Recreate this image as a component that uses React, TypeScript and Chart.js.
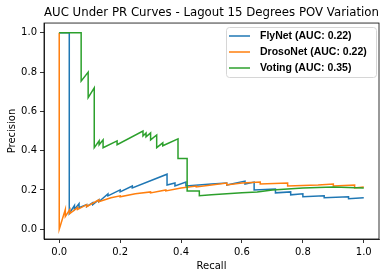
import React, { useEffect, useRef } from "react";
import { Chart, registerables } from "chart.js";

Chart.register(...registerables);

const chartTitle = "AUC Under PR Curves - Lagout 15 Degrees POV Variation";
const xLabel = "Recall";
const yLabel = "Precision";
const tickValues = [0, 0.2, 0.4, 0.6, 0.8, 1.0];

const seriesNames = ["FlyNet (AUC: 0.22)", "DrosoNet (AUC: 0.22)", "Voting (AUC: 0.35)"];
const seriesColors = ["#1f77b4", "#ff7f0e", "#2ca02c"];

const flynetRecall = [0, 0.033, 0.033, 0.05, 0.05, 0.065, 0.065, 0.09, 0.09, 0.11, 0.11, 0.13, 0.13, 0.16, 0.16, 0.2, 0.2, 0.24, 0.24, 0.354, 0.354, 0.38, 0.38, 0.416, 0.416, 0.5, 0.55, 0.55, 0.61, 0.61, 0.64, 0.64, 0.71, 0.71, 0.76, 0.76, 0.8, 0.8, 0.87, 0.87, 0.95, 0.95, 1.0];
const flynetPrecision = [1, 1, 0.08, 0.12, 0.1, 0.13, 0.11, 0.125, 0.115, 0.135, 0.125, 0.15, 0.14, 0.18, 0.17, 0.2, 0.19, 0.22, 0.21, 0.28, 0.225, 0.235, 0.22, 0.24, 0.22, 0.23, 0.235, 0.225, 0.245, 0.23, 0.24, 0.2, 0.205, 0.185, 0.19, 0.175, 0.18, 0.165, 0.17, 0.16, 0.165, 0.155, 0.16];

const drosoRecall = [0, 0, 0.02, 0.02, 0.035, 0.035, 0.06, 0.06, 0.09, 0.09, 0.13, 0.13, 0.17, 0.2, 0.2, 0.25, 0.3, 0.3, 0.35, 0.35, 0.4, 0.45, 0.45, 0.5, 0.55, 0.55, 0.6, 0.66, 0.66, 0.75, 0.75, 0.85, 0.9, 0.9, 0.97, 0.97, 1.0];
const drosoPrecision = [1, 0.0, 0.1, 0.065, 0.1, 0.08, 0.11, 0.1, 0.125, 0.115, 0.15, 0.14, 0.16, 0.17, 0.165, 0.18, 0.19, 0.185, 0.2, 0.195, 0.21, 0.22, 0.215, 0.225, 0.235, 0.225, 0.235, 0.24, 0.23, 0.235, 0.22, 0.225, 0.23, 0.22, 0.225, 0.21, 0.215];

const votingRecall = [0, 0.072, 0.072, 0.095, 0.095, 0.115, 0.115, 0.131, 0.131, 0.144, 0.144, 0.19, 0.19, 0.275, 0.275, 0.285, 0.285, 0.3, 0.3, 0.32, 0.32, 0.34, 0.34, 0.39, 0.39, 0.42, 0.42, 0.46, 0.46, 0.5, 0.55, 0.6, 0.65, 0.7, 0.75, 0.8, 0.9, 1.0];
const votingPrecision = [1, 1, 0.754, 0.8, 0.67, 0.72, 0.415, 0.45, 0.43, 0.455, 0.415, 0.45, 0.43, 0.5, 0.475, 0.49, 0.47, 0.49, 0.455, 0.48, 0.415, 0.44, 0.425, 0.46, 0.36, 0.36, 0.195, 0.195, 0.17, 0.175, 0.18, 0.185, 0.19, 0.2, 0.205, 0.21, 0.215, 0.21];

const allRecall = [flynetRecall, drosoRecall, votingRecall];
const allPrecision = [flynetPrecision, drosoPrecision, votingPrecision];

const framePlugin = {
  id: "frameAndLegend",
  afterDraw(chart: any) {
    const { ctx, chartArea } = chart;
    ctx.save();
    ctx.strokeStyle = "#000";
    ctx.lineWidth = 0.8;
    ctx.strokeRect(chartArea.left, chartArea.top, chartArea.right - chartArea.left, chartArea.bottom - chartArea.top);

    // legend
    const bx = 226.5, by = 27.5, bw = 150, bh = 50, r = 3;
    ctx.beginPath();
    ctx.moveTo(bx + r, by);
    ctx.lineTo(bx + bw - r, by);
    ctx.arcTo(bx + bw, by, bx + bw, by + r, r);
    ctx.lineTo(bx + bw, by + bh - r);
    ctx.arcTo(bx + bw, by + bh, bx + bw - r, by + bh, r);
    ctx.lineTo(bx + r, by + bh);
    ctx.arcTo(bx, by + bh, bx, by + bh - r, r);
    ctx.lineTo(bx, by + r);
    ctx.arcTo(bx, by, bx + r, by, r);
    ctx.closePath();
    ctx.fillStyle = "rgba(255,255,255,0.8)";
    ctx.fill();
    ctx.strokeStyle = "#d6d6d6";
    ctx.lineWidth = 1;
    ctx.stroke();

    ctx.font = "bold 10.5px 'Liberation Sans', Arial, sans-serif";
    ctx.textBaseline = "middle";
    ctx.textAlign = "left";
    seriesNames.forEach((name, i) => {
      const y = 36 + i * 16;
      ctx.beginPath();
      ctx.strokeStyle = seriesColors[i];
      ctx.lineWidth = 1.5;
      ctx.moveTo(229, y);
      ctx.lineTo(250, y);
      ctx.stroke();
      ctx.fillStyle = "#000";
      ctx.fillText(name, 260, y + 0.5);
    });
    ctx.restore();
  },
};

export default function App() {
  const canvasRef = useRef<HTMLCanvasElement | null>(null);

  useEffect(() => {
    if (!canvasRef.current) return;
    const datasets = seriesNames.map((name, i) => ({
      label: name,
      data: allRecall[i].map((r, j) => ({ x: r, y: allPrecision[i][j] })),
      borderColor: seriesColors[i],
      backgroundColor: seriesColors[i],
      borderWidth: 1.5,
      pointRadius: 0,
      showLine: true,
      tension: 0,
      fill: false,
      order: 2 - i,
    }));

    const tickFont = { family: "'DejaVu Sans', sans-serif", size: 10 };
    const chart = new Chart(canvasRef.current, {
      type: "scatter",
      data: { datasets },
      plugins: [framePlugin],
      options: {
        animation: false,
        responsive: false,
        devicePixelRatio: 1,
        layout: { padding: { left: 0, right: 11, top: 0, bottom: 0 } },
        plugins: {
          legend: { display: false },
          tooltip: { enabled: false },
          title: {
            display: true,
            text: chartTitle,
            fullSize: false,
            color: "#000",
            font: { family: "'DejaVu Sans', sans-serif", size: 12.2, weight: "normal" },
            padding: { top: 6, bottom: 2.4 },
          },
        },
        scales: {
          x: {
            type: "linear",
            min: -0.05,
            max: 1.05,
            afterBuildTicks: (axis: any) => {
              axis.ticks = tickValues.map((v) => ({ value: v }));
            },
            afterFit: (scale: any) => {
              scale.height = 39;
            },
            ticks: {
              color: "#000",
              font: tickFont,
              padding: 3,
              maxRotation: 0,
              callback: (v: any) => Number(v).toFixed(1),
            },
            grid: { display: true, drawOnChartArea: false, drawTicks: true, tickLength: 4, color: "#000", lineWidth: 0.8 },
            border: { display: true, color: "#000", width: 0.8 },
            title: { display: true, text: xLabel, color: "#000", font: tickFont, padding: { top: 2, bottom: 6 } },
          },
          y: {
            type: "linear",
            min: -0.05,
            max: 1.05,
            afterBuildTicks: (axis: any) => {
              axis.ticks = tickValues.map((v) => ({ value: v }));
            },
            afterFit: (scale: any) => {
              scale.width = 44;
            },
            ticks: {
              color: "#000",
              font: tickFont,
              padding: 3,
              callback: (v: any) => Number(v).toFixed(1),
            },
            grid: { display: true, drawOnChartArea: false, drawTicks: true, tickLength: 4, color: "#000", lineWidth: 0.8 },
            border: { display: true, color: "#000", width: 0.8 },
            title: { display: true, text: yLabel, color: "#000", font: tickFont, padding: { top: 6, bottom: 2 } },
          },
        },
      },
    } as any);
    return () => chart.destroy();
  }, []);

  return (
    <div style={{ position: "absolute", left: 0, top: 0, width: 390, height: 278, background: "#fff" }}>
      <canvas ref={canvasRef} width={390} height={278} style={{ width: 390, height: 278, display: "block" }} />
    </div>
  );
}
